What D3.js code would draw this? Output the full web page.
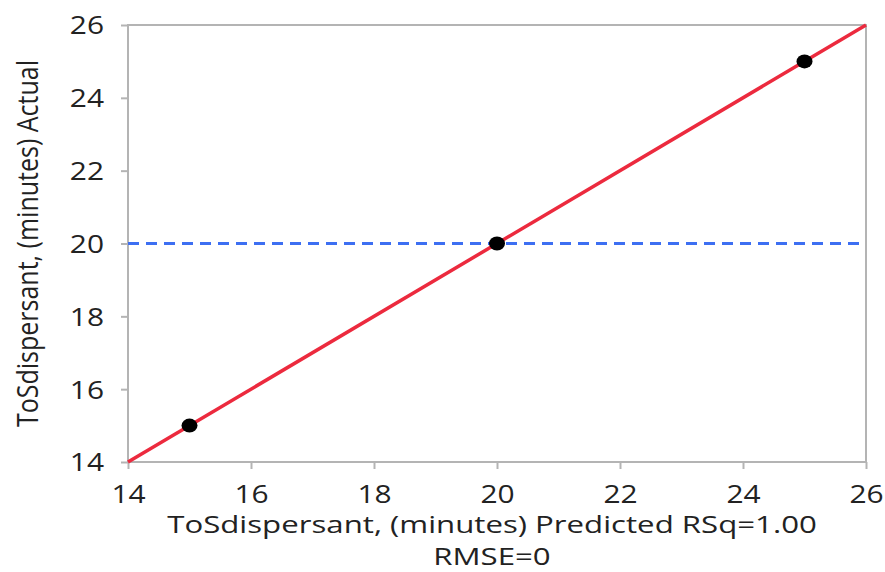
<!DOCTYPE html>
<html>
<head>
<meta charset="utf-8">
<script src="https://cdn.jsdelivr.net/npm/d3@7"></script>
<style>
  html, body { margin: 0; padding: 0; background: #fff; }
  svg { display: block; }
  text { font-family: "Open Sans", "Noto Sans", sans-serif; fill: #222; }
</style>
</head>
<body>
<svg id="chart" width="885" height="572"></svg>
<script>
// Data
const xTicks = [14, 16, 18, 20, 22, 24, 26];
const yTicks = [14, 16, 18, 20, 22, 24, 26];
const predicted = [15, 20, 25];
const actual = [15, 20, 25];
const fitLine = [[14, 14], [26, 26]];
const meanActual = 20;
const xTitle = "ToSdispersant, (minutes) Predicted RSq=1.00";
const xTitle2 = "RMSE=0";
const yTitle = "ToSdispersant, (minutes) Actual";

(function () {
const svg = d3.select("#chart");
const mL = 128, mR = 866, mT = 25, mB = 462;
const sx = 1.15;   // horizontal stretch of tick text in the reference
const sxT = 1.3;   // horizontal stretch of title text

const x = d3.scaleLinear().domain([14, 26]).range([mL, mR]);
const y = d3.scaleLinear().domain([14, 26]).range([mB, mT]);

const axisColor = "#b4b4b4";

// frame
svg.append("rect").attr("x", mL).attr("y", mT)
  .attr("width", mR - mL).attr("height", mB - mT)
  .attr("fill", "none").attr("stroke", axisColor).attr("stroke-width", 2);

// x axis
const gx = svg.append("g").attr("transform", `translate(0,${mB})`)
  .call(d3.axisBottom(x).tickValues(xTicks).tickSize(7).tickSizeOuter(0).tickPadding(4).tickFormat(d3.format("d")));
gx.select(".domain").remove();
gx.selectAll(".tick line").attr("stroke", axisColor).attr("stroke-width", 2);
gx.selectAll(".tick text").attr("font-size", 26).attr("fill", "#222")
  .attr("font-family", "Open Sans").attr("dy", null).attr("y", 41)
  .attr("transform", `scale(${sx},1)`);

// y axis
const gy = svg.append("g").attr("transform", `translate(${mL},0)`)
  .call(d3.axisLeft(y).tickValues(yTicks).tickSize(7).tickSizeOuter(0).tickPadding(4).tickFormat(d3.format("d")));
gy.select(".domain").remove();
gy.selectAll(".tick line").attr("stroke", axisColor).attr("stroke-width", 2);
gy.selectAll(".tick text").attr("font-size", 26).attr("fill", "#222")
  .attr("font-family", "Open Sans").attr("x", -24 / sx).attr("dy", "0.34em")
  .attr("transform", `scale(${sx},1)`);

// mean line
svg.append("line")
  .attr("x1", x(14)).attr("x2", x(26))
  .attr("y1", y(meanActual)).attr("y2", y(meanActual))
  .attr("stroke", "#3d6ff2").attr("stroke-width", 3.2)
  .attr("stroke-dasharray", "11,7");

// fit line
svg.append("path")
  .datum(fitLine)
  .attr("d", d3.line().x(d => x(d[0])).y(d => y(d[1])))
  .attr("stroke", "#ec2a3e").attr("stroke-width", 3.5).attr("fill", "none");

// points
svg.selectAll("ellipse.pt").data(predicted.map((p, i) => [p, actual[i]]))
  .enter().append("ellipse").attr("class", "pt")
  .attr("cx", d => x(d[0])).attr("cy", d => y(d[1]))
  .attr("rx", 8).attr("ry", 7).attr("fill", "#000");

// titles
const cx = 492;
svg.append("text").attr("text-anchor", "middle").attr("font-size", 24)
  .attr("transform", `translate(${cx},533) scale(${sxT},1)`).text(xTitle);
svg.append("text").attr("text-anchor", "middle").attr("font-size", 24)
  .attr("transform", `translate(${cx},565) scale(${sxT},1)`).text(xTitle2);
svg.append("text").attr("text-anchor", "middle").attr("font-size", 25)
  .attr("transform", `translate(38,${(mT + mB) / 2}) scale(1.2,1) rotate(-90)`).text(yTitle);
})();
</script>
</body>
</html>
